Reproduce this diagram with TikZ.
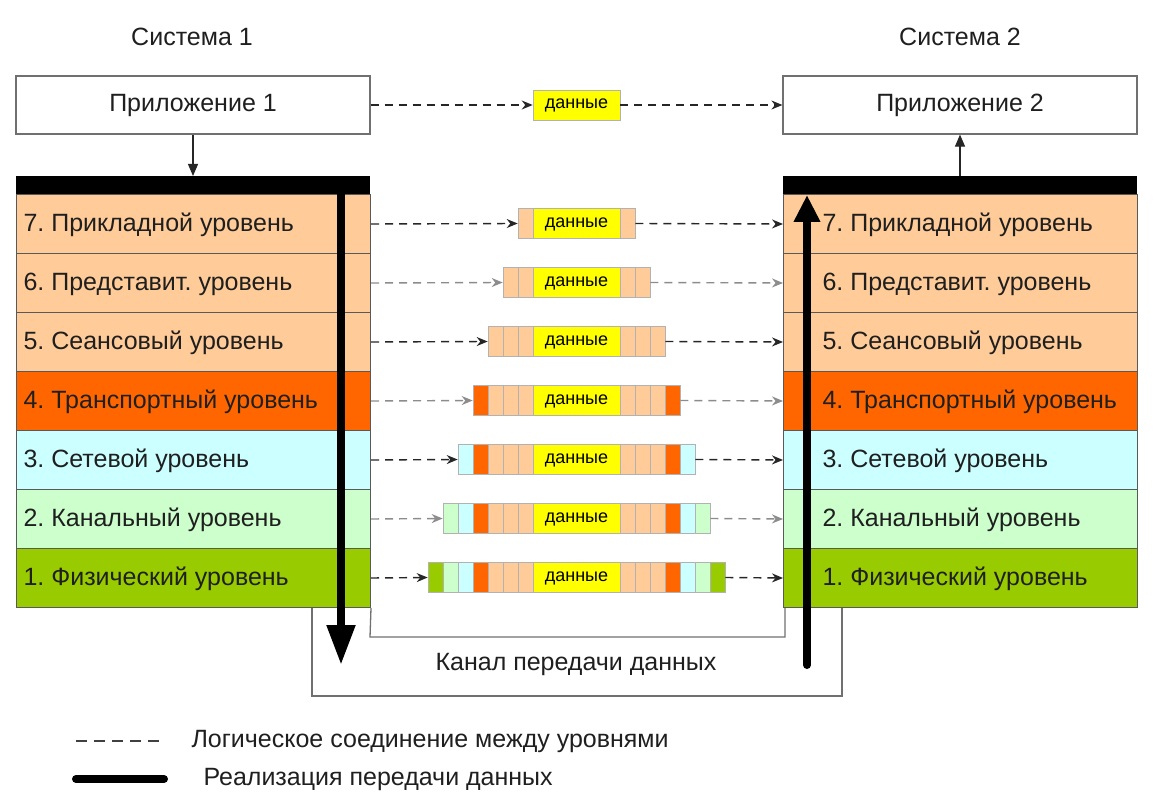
\documentclass[tikz,border=0pt]{standalone}
\usepackage{fontspec}
\setmainfont{Liberation Sans}
\usetikzlibrary{arrows.meta}
\frenchspacing
\definecolor{lay7}{HTML}{FFCC99}
\definecolor{lay6}{HTML}{FFCC99}
\definecolor{lay5}{HTML}{FFCC99}
\definecolor{lay4}{HTML}{FF6600}
\definecolor{lay3}{HTML}{CCFFFF}
\definecolor{lay2}{HTML}{CCFFCC}
\definecolor{lay1}{HTML}{99CC00}
\definecolor{datay}{HTML}{FFFF00}
\definecolor{linegray}{HTML}{707070}
\begin{document}
\begin{tikzpicture}[x=1pt,y=-1pt,
  lbl/.style={font=\fontsize{25}{28}\selectfont, text=black!88},
  appbox/.style={draw=linegray, line width=1.2pt, fill=white, minimum width=354pt, minimum height=58pt, inner sep=0pt, lbl},
  layerbox/.style={draw=black!65, line width=1pt, minimum width=354pt, minimum height=59pt, inner sep=0pt, anchor=north west},
  barbox/.style={fill=black, minimum width=354pt, minimum height=18pt, inner sep=0pt, anchor=north west},
  pkcell/.style={draw=black!30, line width=0.6pt, minimum width=15pt, minimum height=30pt, inner sep=0pt},
  datab/.style={draw=black!30, line width=0.6pt, fill=datay, minimum width=87pt, minimum height=30pt, inner sep=0pt, text height=9pt, text depth=1pt, font=\fontsize{18}{20}\selectfont},
  dasharr/.style={dash pattern=on 8pt off 6pt, line width=1.4pt, -{Stealth[length=11pt,width=9pt]}},
  thinarr/.style={draw=black!85, line width=1.1pt, -{Triangle[length=12pt,width=10pt]}},
  thick/.style={line width=8pt},
  chan/.style={draw=linegray, line width=1.3pt}
]
\useasboundingbox (0,0) rectangle (1156,799);

% titles
\node[lbl] (s1) at (192,37) {Система 1};
\node[lbl] (s2) at (960,37) {Система 2};

% application boxes
\node[appbox] (A1) at (193,105) {Приложение 1};
\node[appbox] (A2) at (960,105) {Приложение 2};
\node[datab] (D0) at (576.5,105) {данные};

% black bars
\node[barbox] (LB) at (16,176) {};
\node[barbox] (RB) at (783,176) {};
\draw[thinarr] (A1.south) -- (LB.north -| A1.south);
\draw[thinarr] (RB.north -| A2.south) -- (A2.south);

% layers
\foreach \r/\t in {7/{7. Прикладной уровень},6/{6. Представит. уровень},5/{5. Сеансовый уровень},4/{4. Транспортный уровень},3/{3. Сетевой уровень},2/{2. Канальный уровень},1/{1. Физический уровень}}{
  \pgfmathsetmacro\yy{194+(7-\r)*59}
  \node[layerbox, fill=lay\r] (L\r) at (16,\yy) {};
  \node[layerbox, fill=lay\r] (R\r) at (783,\yy) {};
  \node[lbl, anchor=west] (Lt\r) at ([xshift=4pt,yshift=-1pt]L\r.west) {\t};
  \node[lbl, anchor=west] (Rt\r) at ([xshift=36pt,yshift=-1pt]R\r.west) {\t};
}

% packets
\foreach \r in {1,...,7}{
  \pgfmathsetmacro\cy{194+(7-\r)*59+29.5}
  \pgfmathtruncatemacro\n{8-\r}
  \node[datab] (D\r) at (576.5,\cy) {данные};
  \foreach \k in {1,...,\n}{
    \pgfmathtruncatemacro\m{8-\k}
    \node[pkcell, fill=lay\m] (PL\r-\k) at (533-15*\k+7.5,\cy) {};
    \node[pkcell, fill=lay\m] (PR\r-\k) at (620+15*\k-7.5,\cy) {};
  }
}

% dashed logical connections
\draw[dasharr, black!85] (A1.east) -- (D0.west);
\draw[dasharr, black!85] (D0.east) -- (A2.west);
\foreach \r/\c in {7/black!85,6/black!45,5/black!85,4/black!45,3/black!85,2/black!45,1/black!85}{
  \pgfmathtruncatemacro\n{8-\r}
  \draw[dasharr, \c] (L\r.east) -- (PL\r-\n.west);
  \draw[dasharr, \c] (PR\r-\n.east) -- (R\r.west);
}

% channel
\coordinate (ci1) at (370,637);
\coordinate (ci2) at (785,637);
\coordinate (co1) at (312,696);
\coordinate (co2) at (842,696);
\draw[chan] (L1.south east) -- (ci1) -- (ci2) -- (ci2 |- R1.south);
\draw[chan] (co1 |- L1.south) -- (co1) -- (co2) -- (co2 |- R1.south);
\node[lbl] (chl) at (576,664) {Канал передачи данных};

% thick data paths
\coordinate (ls) at (341,186);
\coordinate (le) at (341,665);
\coordinate (rs) at (807,665);
\coordinate (re) at (807,195);
\draw[thick, -{Triangle[length=40pt,width=27pt]}] (ls) -- (le);
\draw[thick, line cap=round, -{Triangle[length=27pt,width=25pt]}] (rs) -- (re);

% legend
\coordinate (g1a) at (76,741);
\coordinate (g1b) at (159,741);
\coordinate (g2a) at (76,779);
\coordinate (g2b) at (164,779);
\draw[black!75, line width=1.3pt, dash pattern=on 11pt off 7pt] (g1a) -- (g1b);
\draw[thick, line cap=round] (g2a) -- (g2b);
\node[lbl, anchor=west] (gt1) at (188,741) {Логическое соединение между уровнями};
\node[lbl, anchor=west] (gt2) at (200,779) {Реализация передачи данных};
\end{tikzpicture}
\end{document}
